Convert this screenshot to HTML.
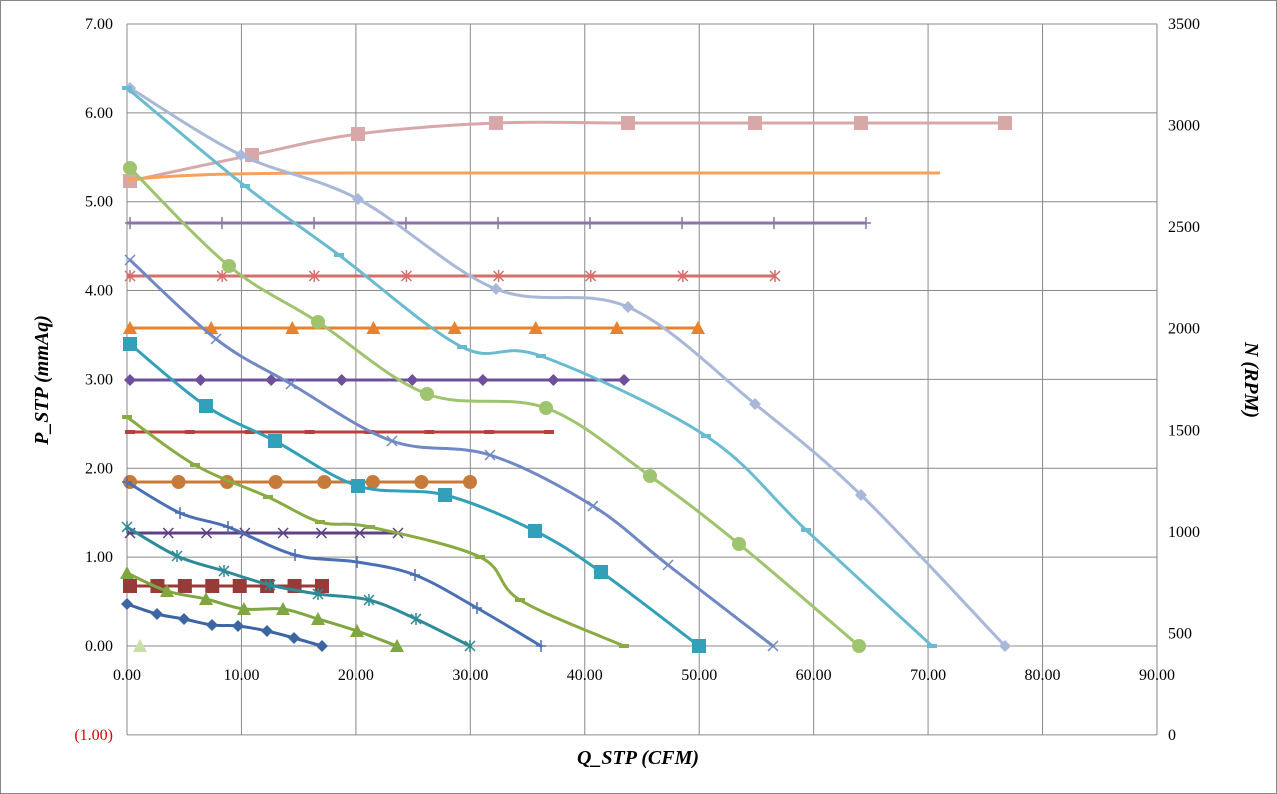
<!DOCTYPE html>
<html><head><meta charset="utf-8"><style>
html,body{margin:0;padding:0;background:#fff;}
svg{display:block;font-family:"Liberation Serif",serif;}
</style></head><body>
<svg id="s" width="1277" height="794" viewBox="0 0 1277 794" xmlns="http://www.w3.org/2000/svg">
<rect x="0.5" y="0.5" width="1276" height="793" fill="#fff" stroke="#888"/>
<g id="grid" stroke="#8a8a8a" stroke-width="1"></g>
<g id="series"></g>
<g id="labels" font-size="16" fill="#000"></g>
<text x="638" y="764" font-size="20" font-weight="bold" font-style="italic" text-anchor="middle">Q_STP (CFM)</text>
<text transform="translate(48,380) rotate(-90)" font-size="20" font-weight="bold" font-style="italic" text-anchor="middle">P_STP (mmAq)</text>
<text transform="translate(1245,380) rotate(90)" font-size="20" font-weight="bold" font-style="italic" text-anchor="middle">N (RPM)</text>
</svg>
<script>
var NS="http://www.w3.org/2000/svg";
function el(p,t,a){var e=document.createElementNS(NS,t);for(var k in a)e.setAttribute(k,a[k]);p.appendChild(e);return e;}
var g=document.getElementById('grid'),L=document.getElementById('labels'),S=document.getElementById('series');
var x0=127,dx=114.44,y0=646,dy=88.86;
for(var i=0;i<=9;i++){var x=x0+i*dx;el(g,'line',{x1:x,y1:24,x2:x,y2:735});
 var t=el(L,'text',{x:x,y:680,'text-anchor':'middle'});t.textContent=(i*10).toFixed(2);}
for(var j=-1;j<=7;j++){var y=y0-j*dy;el(g,'line',{x1:127,y1:y,x2:1157,y2:y});
 var t=el(L,'text',{x:113,y:y+5,'text-anchor':'end'});t.textContent=j<0?'(1.00)':j.toFixed(2);if(j<0)t.setAttribute('fill','#e00000');}
el(g,'line',{x1:1157,y1:24,x2:1157,y2:735});
for(var n=0;n<=3500;n+=500){var y=735-n*0.20314;var t=el(L,'text',{x:1168,y:y+5});t.textContent=n;}
function path(pts){var d='M'+pts[0][0]+','+pts[0][1];for(var i=0;i<pts.length-1;i++){var p0=pts[Math.max(0,i-1)],p1=pts[i],p2=pts[i+1],p3=pts[Math.min(pts.length-1,i+2)];
 var c1=[p1[0]+(p2[0]-p0[0])/6,p1[1]+(p2[1]-p0[1])/6],c2=[p2[0]-(p3[0]-p1[0])/6,p2[1]-(p3[1]-p1[1])/6];
 d+=' C'+c1+' '+c2+' '+p2;}return d;}
function mk(c,x,y,t,s){s=s||1;
 if(t=='d')el(S,'polygon',{points:[x,y-6,x+6,y,x,y+6,x-6,y].join(','),fill:c});
 else if(t=='s')el(S,'rect',{x:x-7,y:y-7,width:14,height:14,fill:c});
 else if(t=='t')el(S,'polygon',{points:[x,y-7,x+7,y+6,x-7,y+6].join(','),fill:c});
 else if(t=='c')el(S,'circle',{cx:x,cy:y,r:7,fill:c});
 else if(t=='x'){el(S,'path',{d:'M'+(x-5)+','+(y-5)+'L'+(x+5)+','+(y+5)+'M'+(x+5)+','+(y-5)+'L'+(x-5)+','+(y+5),stroke:c,'stroke-width':1.5});}
 else if(t=='*'){el(S,'path',{d:'M'+(x-5)+','+(y-5)+'L'+(x+5)+','+(y+5)+'M'+(x+5)+','+(y-5)+'L'+(x-5)+','+(y+5)+'M'+x+','+(y-6)+'L'+x+','+(y+6),stroke:c,'stroke-width':1.5});}
 else if(t=='+'){el(S,'path',{d:'M'+(x-5)+','+y+'L'+(x+5)+','+y+'M'+x+','+(y-6)+'L'+x+','+(y+6),stroke:c,'stroke-width':1.5});}
 else if(t=='-'){el(S,'rect',{x:x-5,y:y-2,width:10,height:4,fill:c});}
}
function ser(c,t,pts,line){if(line!==false)el(S,'path',{d:path(pts),fill:'none',stroke:c,'stroke-width':3,'stroke-linecap':'round'});pts.forEach(function(p){mk(c,p[0],p[1],t);});}
function flat(c,t,y,x2,n){var pts=[];for(var i=0;i<n;i++)pts.push([130+(x2-130)*i/(n-1),y]);el(S,'line',{x1:127,y1:y,x2:x2,y2:y,stroke:c,'stroke-width':3});if(t)pts.forEach(function(p){mk(c,p[0],p[1],t);});}
// flat RPM lines
el(S,'path',{d:path([[130,181],[252,155],[358,134],[496,123],[628,123],[755,123],[861,123],[1005,123]]),fill:'none',stroke:'#d8a8a8','stroke-width':3});
[[130,181],[252,155],[358,134],[496,123],[628,123],[755,123],[861,123],[1005,123]].forEach(function(p){mk('#d8a8a8',p[0],p[1],'s');});
el(S,'path',{d:'M127,180 C180,174 250,173 350,173 L940,173',fill:'none',stroke:'#f9a05a','stroke-width':3});
flat('#8b73ad','+',223,866,9);
flat('#d46f6b','*',276,775,8);
flat('#e8822e','t',328,698,8);
flat('#6e4f9b','d',380,624,8);
flat('#b8403c','-',432,549,8);
flat('#c77b3a','c',482,470,8);
flat('#5e4180','x',533,398,8);
flat('#983a37','s',586,322,8);
mk('#c9dfa8',140,646,'t');
// P curves
ser('#a9b8d8','d',[[130,88],[241,155],[358,199],[496,289],[628,307],[755,404],[861,495],[1005,646]]);
ser('#6bbbd0','-',[[127,88],[245,186],[339,255],[462,347],[541,356],[706,436],[806,530],[932,646]]);
ser('#9fc46e','c',[[130,168],[229,266],[318,322],[427,394],[546,408],[650,476],[739,544],[859,646]]);
ser('#7088c4','x',[[130,260],[216,339],[291,384],[392,441],[490,455],[593,506],[668,565],[773,646]]);
ser('#31a0b8','s',[[130,344],[206,406],[275,441],[358,486],[445,495],[535,531],[601,572],[699,646]]);
ser('#8aab42','-',[[127,417],[195,465],[268,497],[320,522],[370,527],[480,557],[520,600],[624,646]]);
ser('#4a6fb5','+',[[127,482],[180,513],[228,527],[295,555],[357,562],[415,575],[477,608],[541,646]]);
ser('#2e8a99','*',[[127,527],[177,556],[224,571],[270,585],[318,594],[369,600],[416,619],[470,646]]);
ser('#7fa640','t',[[127,573],[167,591],[206,599],[244,609],[283,609],[318,619],[357,631],[397,646]]);
ser('#3c65a3','d',[[127,604],[157,614],[184,619],[212,625],[238,626],[267,631],[294,638],[322,646]]);
</script>
</body></html>
